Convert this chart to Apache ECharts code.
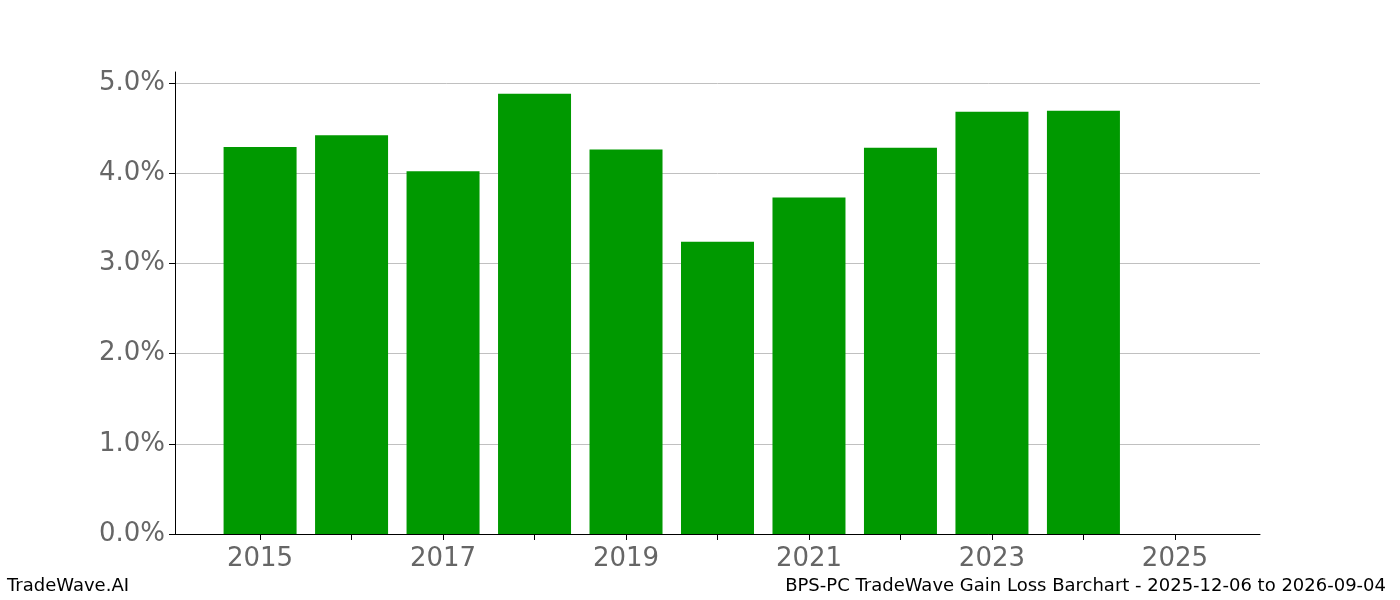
<!DOCTYPE html>
<html>
<head>
<meta charset="utf-8">
<script src="https://cdn.jsdelivr.net/npm/echarts@6/dist/echarts.min.js"></script>
<style>html,body{margin:0;padding:0;background:#fff}#main{width:1400px;height:600px}</style>
</head>
<body>
<div id="main"></div>
<script>
// values, percent gain per year
var years = [2015, 2016, 2017, 2018, 2019, 2020, 2021, 2022, 2023, 2024];
var gains = [4.29, 4.42, 4.02, 4.88, 4.26, 3.24, 3.73, 4.28, 4.68, 4.69];
var yearTicks = [2015, 2016, 2017, 2018, 2019, 2020, 2021, 2022, 2023, 2024, 2025];
var pctTicks = [0, 1, 2, 3, 4, 5];

var chart = echarts.init(document.getElementById('main'));
var font = 'DejaVu Sans';
var option = {
    backgroundColor: '#fff',
    animation: false,
    grid: {left: 175, right: 140, top: 72, bottom: 66},
    graphic: [
        {type: 'text', left: 7, top: 577, style: {text: 'TradeWave.AI', font: '18px "DejaVu Sans"', fill: '#000'}},
        {type: 'text', right: 14, top: 577, style: {text: 'BPS-PC TradeWave Gain Loss Barchart - 2025-12-06 to 2026-09-04', font: '18px "DejaVu Sans"', fill: '#000'}}
    ],
    xAxis: {
        type: 'value',
        min: 2014.07,
        max: 2025.93,
        axisLine: {show: true, lineStyle: {color: '#000'}},
        axisTick: {show: true, length: 6, lineStyle: {color: '#000'}, customValues: yearTicks},
        axisLabel: {
            fontFamily: font, fontSize: 26, color: '#666', margin: 12,
            customValues: yearTicks.filter(function (y) { return y % 2 === 1; }),
            formatter: function (v) { return String(v); }
        },
        splitLine: {show: false}
    },
    yAxis: {
        type: 'value',
        min: 0,
        max: 5.12,
        axisLine: {show: true, lineStyle: {color: '#000'}},
        axisTick: {show: true, length: 6, lineStyle: {color: '#000'}, customValues: pctTicks},
        axisLabel: {
            fontFamily: font, fontSize: 26, color: '#666', margin: 10,
            customValues: pctTicks,
            formatter: function (v) { return v.toFixed(1) + '%'; }
        },
        splitLine: {show: true, lineStyle: {color: '#c0c0c0', width: 1}}
    },
    series: [{
        type: 'bar',
        barWidth: 73,
        itemStyle: {color: '#009900'},
        data: years.map(function (y, i) { return [y, gains[i]]; })
    }]
};
chart.setOption(option);
</script>
</body>
</html>
